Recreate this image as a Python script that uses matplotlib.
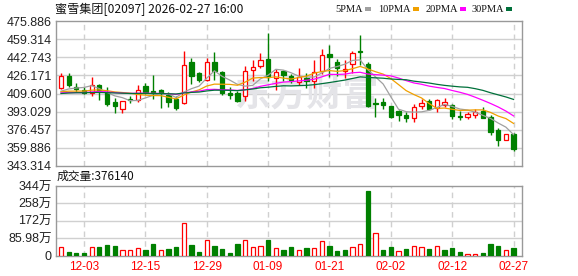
import matplotlib
matplotlib.use('Agg')
import matplotlib.pyplot as plt
import numpy as np
import pandas as pd
from matplotlib.patches import Rectangle

# ---------------- data ----------------
dates = ['11-28', '12-01', '12-02', '12-03', '12-04', '12-05', '12-08', '12-09', '12-10', '12-11',
         '12-12', '12-15', '12-16', '12-17', '12-18', '12-19', '12-22', '12-23', '12-24', '12-29',
         '12-30', '12-31', '01-02', '01-05', '01-06', '01-07', '01-08', '01-09', '01-12', '01-13',
         '01-14', '01-15', '01-16', '01-19', '01-20', '01-21', '01-22', '01-23', '01-26', '01-27',
         '01-28', '01-29', '01-30', '02-02', '02-03', '02-04', '02-05', '02-06', '02-09', '02-10',
         '02-11', '02-12', '02-13', '02-16', '02-20', '02-23', '02-24', '02-25', '02-26', '02-27']

opens = [414.4, 425.6, 415.6, 413.0, 410.2, 417.5, 411.1, 401.4, 395.7, 404.3,
         403.9, 416.5, 412.3, 412.6, 408.4, 404.8, 400.5, 438.6, 428.6, 422.0,
         438.6, 429.5, 410.5, 410.5, 407.5, 431.1, 434.7, 441.3, 424.1, 430.2,
         425.6, 420.5, 424.1, 421.1, 430.2, 445.3, 438.6, 430.2, 436.8, 448.3,
         436.2, 400.5, 401.4, 398.4, 393.9, 390.3, 387.4, 398.1, 402.4, 396.2,
         399.0, 399.4, 389.1, 387.8, 390.3, 393.3, 388.5, 376.4, 367.5, 372.2]
highs = [428.6, 428.6, 419.6, 415.3, 424.7, 418.0, 415.6, 405.4, 402.6, 407.0,
         417.8, 419.2, 426.5, 414.0, 411.0, 407.2, 448.9, 442.2, 429.5, 442.2,
         447.1, 430.0, 415.6, 412.0, 434.7, 440.4, 446.2, 464.9, 431.7, 431.0,
         427.0, 433.2, 428.6, 440.1, 450.7, 454.3, 440.7, 440.1, 448.9, 462.8,
         438.3, 405.4, 405.4, 398.6, 394.5, 392.4, 400.2, 405.0, 404.5, 404.5,
         405.1, 399.6, 393.3, 392.4, 395.4, 396.9, 390.3, 378.2, 372.5, 373.3]
lows = [413.5, 416.0, 411.4, 409.3, 407.2, 403.6, 397.8, 391.8, 391.8, 400.5,
        401.7, 409.5, 404.6, 396.2, 397.5, 394.5, 399.8, 418.1, 420.5, 421.1,
        422.0, 408.1, 404.5, 401.4, 402.3, 421.1, 432.6, 421.1, 412.6, 421.0,
        419.6, 417.5, 415.0, 414.4, 427.7, 424.7, 425.6, 424.1, 428.6, 435.6,
        396.9, 388.5, 395.4, 387.2, 384.6, 383.5, 383.5, 395.2, 394.5, 392.5,
        396.9, 386.5, 385.4, 386.3, 387.2, 387.0, 371.8, 362.0, 367.5, 356.6]
closes = [425.6, 417.2, 413.5, 410.5, 417.1, 412.0, 399.9, 397.8, 402.3, 403.3,
          412.9, 411.4, 409.8, 410.1, 402.0, 396.5, 435.7, 425.6, 422.0, 438.3,
          430.2, 410.5, 408.4, 402.3, 430.2, 433.8, 440.4, 424.7, 429.5, 426.5,
          421.7, 424.7, 421.1, 429.5, 444.7, 442.8, 433.2, 431.7, 446.8, 447.1,
          398.4, 400.0, 399.0, 388.5, 390.3, 387.2, 397.6, 400.5, 395.3, 403.2,
          401.4, 388.7, 388.4, 390.9, 393.0, 387.2, 374.4, 367.4, 372.2, 358.7]
# volume in units of 万 shares
volumes = [40.4, 18.8, 12.4, 12.4, 40.4, 42.1, 52.0, 47.0, 27.2, 27.2,
           35.5, 27.2, 56.9, 27.2, 32.2, 40.4, 159.4, 52.0, 18.8, 76.7,
           47.0, 32.2, 12.4, 56.9, 76.7, 40.4, 48.7, 76.7, 35.5, 27.2,
           40.4, 25.6, 35.5, 35.5, 70.1, 48.7, 23.9, 27.2, 43.7, 56.9,
           319.3, 109.7, 27.2, 42.1, 20.6, 32.2, 47.0, 40.4, 32.2, 47.0,
           27.2, 37.1, 17.3, 5.8, 5.8, 12.4, 56.9, 47.0, 27.2, 37.6]
# closes before the visible window (needed for the moving averages), estimated
pre_closes = [404, 406, 410, 412, 409, 407, 405, 409, 411, 411,
              412, 414, 410, 406, 404, 407, 410, 413, 408, 409,
              411, 413, 410, 409, 409.5, 407, 409, 408, 408.9]

price_ticks = [475.886, 459.314, 442.743, 426.171, 409.600, 393.029, 376.457, 359.886, 343.314]
vol_ticks = [0, 85.98, 171.96, 257.94, 343.92]
vol_tick_labels = ['0', '85.98万', '172万', '258万', '344万']
ma_periods = [5, 10, 20, 30]
ma_names = ['5PMA', '10PMA', '20PMA', '30PMA']
ma_colors = ['#a0a0a0', '#f0a000', '#ff00ff', '#00703a']
title = '蜜雪集团[02097] 2026-02-27 16:00'
latest_volume = 376140

RED = '#ff0000'
GREEN = '#008000'
GRID = '#d0d0d0'
SPINE = '#999999'
NUM_FONT = ['Liberation Sans', 'Noto Sans CJK SC', 'DejaVu Sans']
CJK_FONT = ['Noto Sans CJK SC', 'DejaVu Sans']

# ---------------- figure ----------------
W, H = 578, 276
fig = plt.figure(figsize=(W / 100, H / 100), dpi=100)


def fx(px):
    return px / W


def fy(py):
    return 1 - py / H


L, R = 56, 522
ax = fig.add_axes([fx(L), fy(166), fx(R) - fx(L), fy(21) - fy(166)])
axv = fig.add_axes([fx(L), fy(255.5), fx(R) - fx(L), fy(186) - fy(255.5)])

n = len(closes)
x = np.arange(n)
label_idx = list(range(3, n, 8))

for a in (ax, axv):
    a.set_xlim(-0.65, n + 0.1)
    for s in a.spines.values():
        s.set_color(SPINE)
        s.set_linewidth(1.0)
    a.tick_params(length=0, pad=3)
    for i in label_idx:
        a.axvline(i, color=GRID, lw=1.0, ls=(0, (4, 3)), zorder=0)

# --- price panel ---
ax.set_ylim(price_ticks[-1], price_ticks[0])
ax.set_yticks(price_ticks)
ax.set_yticklabels([f'{t:.3f}' for t in price_ticks], family=NUM_FONT, fontsize=9, color='#222222')
ax.set_xticks([])
for t in price_ticks[1:-1]:
    ax.axhline(t, color=GRID, lw=1.0, zorder=0)

ax.text(0.54, 0.49, '东方财富', transform=ax.transAxes, ha='center', va='center',
        fontsize=26, fontweight='bold', color='#e4e4e8', family=CJK_FONT, zorder=0.5)

bw = 0.56
for i in range(n):
    o, h, l, c = opens[i], highs[i], lows[i], closes[i]
    up = c >= o
    col = RED if up else GREEN
    ax.vlines(i, l, h, color=col, lw=1.0, zorder=3)
    bottom = min(o, c)
    height = max(abs(c - o), 0.35)
    ax.add_patch(Rectangle((i - bw / 2, bottom), bw, height,
                           facecolor='white' if up else GREEN, edgecolor=col,
                           lw=0.9, zorder=4))

full = pd.Series(pre_closes + closes)
for p, colr in zip(ma_periods, ma_colors):
    ma = full.rolling(p).mean().to_numpy()[len(pre_closes):]
    ax.plot(x, ma, color=colr, lw=0.9, zorder=5)

# --- volume panel ---
axv.set_ylim(0, vol_ticks[-1])
axv.set_yticks(vol_ticks)
axv.set_yticklabels(vol_tick_labels, family=NUM_FONT, fontsize=9, color='#222222')
for t in vol_ticks[1:-1]:
    axv.axhline(t, color=GRID, lw=1.0, zorder=0)
prev = [pre_closes[-1]] + closes[:-1]
for i in range(n):
    up = closes[i] >= prev[i]
    col = RED if up else GREEN
    axv.add_patch(Rectangle((i - bw / 2, 0), bw, volumes[i],
                            facecolor='white' if up else GREEN, edgecolor=col,
                            lw=0.9, zorder=3))
axv.set_xticks(label_idx)
axv.set_xticklabels([dates[i] for i in label_idx], family=NUM_FONT, fontsize=8.5, color=RED)
axv.tick_params(axis='x', pad=4)

# --- texts ---
fig.text(fx(55), fy(9), title, fontsize=8.7, family=CJK_FONT, va='center', ha='left', color='#111111')
fig.text(fx(57), fy(176), f'成交量:{latest_volume}', fontsize=8.5, family=CJK_FONT,
         va='center', ha='left', color='#111111')

square_x = [365, 413, 460, 506]
for name, colr, sx in zip(ma_names, ma_colors, square_x):
    fig.text(fx(sx - 2), fy(9), name, fontsize=7.5, family=['Liberation Serif', 'DejaVu Serif'],
             va='center', ha='right', color='#111111')
    fig.patches.append(Rectangle((fx(sx), fy(10.5)), fx(6), fy(0) - fy(3.5),
                                 transform=fig.transFigure, facecolor=colr, edgecolor='none'))

fig.savefig('out.png', dpi=100)
